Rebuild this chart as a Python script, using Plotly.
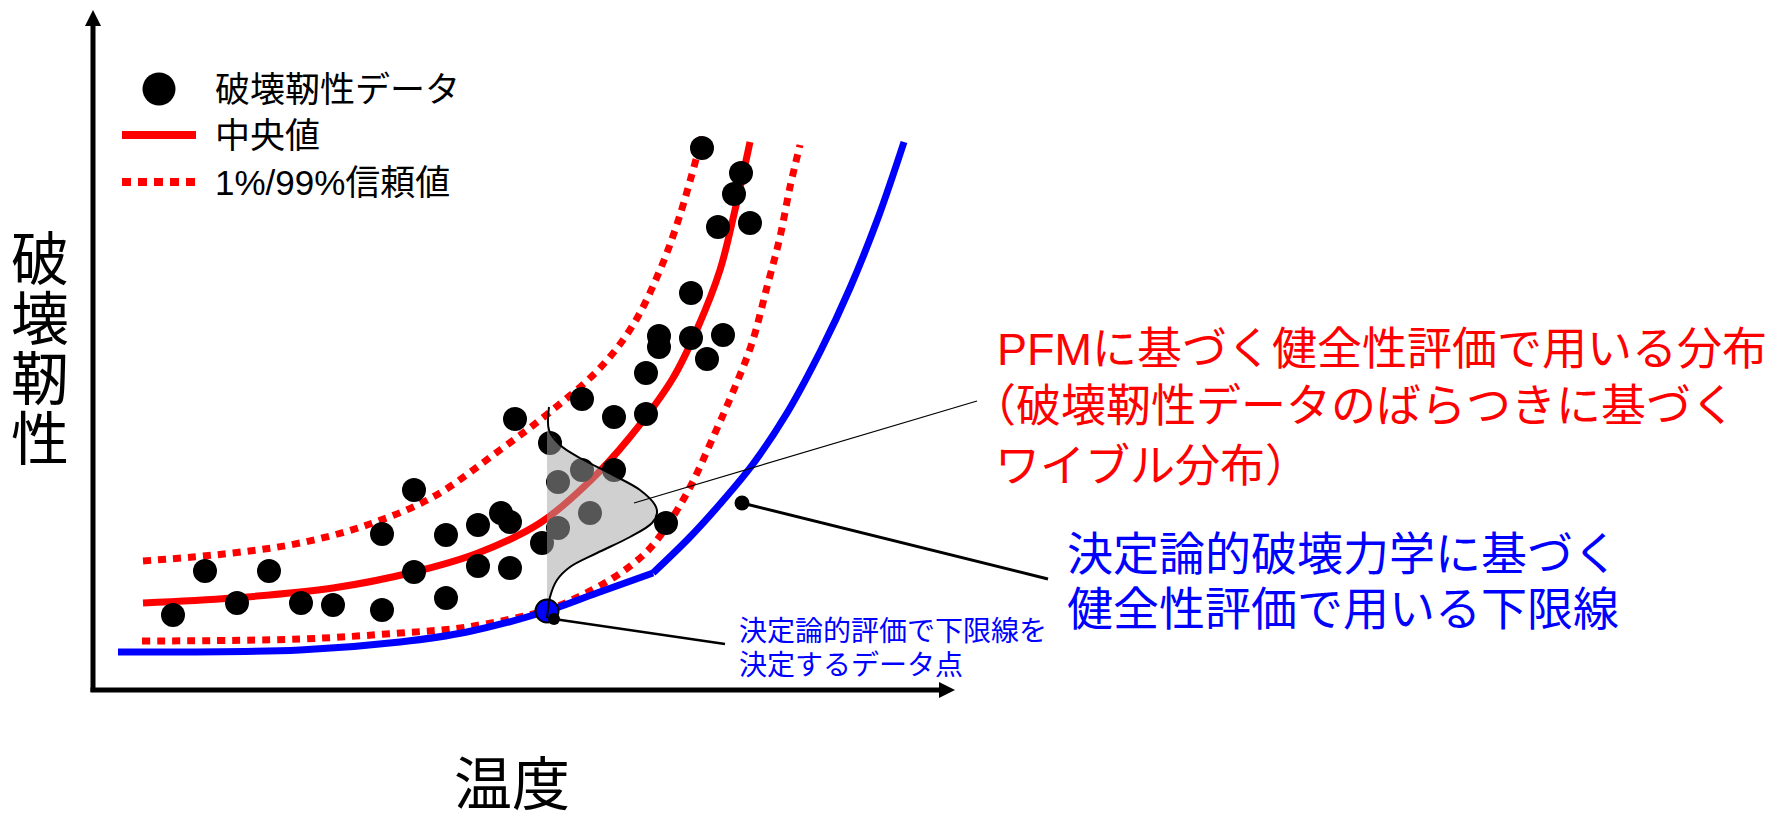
import plotly.graph_objects as go

# ---- data (temperature / fracture toughness, arbitrary units from the axis origin) ----
# 破壊靭性データ
data_T = [80, 112, 144, 176, 208, 240, 289, 289, 321, 321, 353, 353, 385, 385, 408, 417, 417,
          449, 465, 465, 497, 489, 521, 573, 457, 422, 489, 521, 553, 553, 566, 566, 598, 630,
          614, 598, 625, 657, 641, 648, 609]
data_K = [74, 118, 86, 118, 86, 84, 155, 79, 199, 117, 154, 91, 164, 123, 176, 167, 121,
          146, 207, 161, 176, 219, 219, 166, 246, 270, 290, 272, 275, 316, 353, 342, 351, 354,
          330, 396, 462, 466, 495, 516, 541]

# 中央値
median_T = [50, 140, 240, 321, 385, 447, 497, 537, 580, 605, 627, 642, 657]
median_K = [86, 91, 101, 117, 136, 166, 208, 252, 311, 362, 419, 479, 547]

# 99% 信頼値 (upper)
upper_T = [50, 140, 207, 274, 340, 407, 457, 507, 540, 567, 587, 609]
upper_K = [128, 136, 146, 164, 192, 239, 277, 321, 364, 419, 474, 552]

# 1% 信頼値 (lower)
lower_T = [49, 207, 307, 374, 454, 487, 520, 547, 564, 594, 622, 642, 659, 674, 687, 697, 707]
lower_K = [48, 50, 56, 62, 79, 93, 111, 131, 149, 196, 256, 302, 346, 402, 452, 502, 544]

# 決定論的評価の下限線 (two branches meeting at the bend)
bound_lo_T = [25, 207, 307, 374, 454, 504, 560]
bound_lo_K = [37, 39, 47, 57, 78, 96, 116]
bound_hi_T = [560, 597, 627, 660, 694, 728, 757, 785, 811]
bound_hi_K = [116, 152, 185, 225, 276, 339, 401, 471, 547]

# ワイブル分布 (toughness levels and density width at the evaluated temperature)
weib_T0 = 454
weib_K = [282, 259, 244, 231, 214, 199, 184, 176, 166, 152, 136, 122, 109, 92, 79, 71]
weib_w = [2, 2, 13, 33, 66, 93, 108, 110, 105, 83, 50, 23, 10, 3, 1, 0]

# 下限線を決定するデータ点
det_T, det_K = 454, 78

# ---- styling ----
W, H = 1776, 817
X0_PX, Y0_PX = 93, 689          # axis origin on the page
RED, BLUE = "#ff0000", "#0000ff"
FONT = "Liberation Sans, Noto Sans CJK JP, sans-serif"

fig = go.Figure()

dot_dash = "8px,7px"
fig.add_trace(go.Scatter(x=upper_T, y=upper_K, mode="lines", line=dict(color=RED, width=7, dash=dot_dash, shape="spline")))
fig.add_trace(go.Scatter(x=lower_T, y=lower_K, mode="lines", line=dict(color=RED, width=7, dash=dot_dash, shape="spline")))
fig.add_trace(go.Scatter(x=bound_lo_T, y=bound_lo_K, mode="lines", line=dict(color=BLUE, width=7, shape="spline")))
fig.add_trace(go.Scatter(x=bound_hi_T, y=bound_hi_K, mode="lines", line=dict(color=BLUE, width=7, shape="spline")))
fig.add_trace(go.Scatter(x=median_T, y=median_K, mode="lines", line=dict(color=RED, width=7, shape="spline")))

fig.add_trace(go.Scatter(x=data_T, y=data_K, mode="markers",
                         marker=dict(color="black", size=24, line=dict(width=0))))

# distribution: translucent fill and outline
dist_x = [weib_T0 + w for w in weib_w]
fig.add_trace(go.Scatter(x=dist_x + [weib_T0, weib_T0], y=weib_K + [weib_K[-1], weib_K[1]],
                         mode="lines", fill="toself", fillcolor="rgba(164,164,164,0.52)",
                         line=dict(width=0), hoverinfo="skip"))

fig.add_trace(go.Scatter(x=[det_T], y=[det_K], mode="markers",
                         marker=dict(color=BLUE, size=23, line=dict(color="black", width=2))))

fig.add_trace(go.Scatter(x=dist_x, y=weib_K, mode="lines",
                         line=dict(color="black", width=2, shape="spline")))

# leader lines and their anchor dots
leaders = [
    ([541, 884], [186, 288], 1.3, 0),
    ([649, 955], [186, 110], 3, 15),
    ([461, 632], [70, 45], 2.5, 12),
]
for lx, ly, lw, dot in leaders:
    fig.add_trace(go.Scatter(x=lx, y=ly, mode="lines", line=dict(color="black", width=lw)))
    if dot:
        fig.add_trace(go.Scatter(x=lx[:1], y=ly[:1], mode="markers",
                                 marker=dict(color="black", size=dot, opacity=1, line=dict(width=0))))

# legend glyphs
LEG_X0, LEG_X1, LEG_TX = 29, 103, 120
LEG_Y = [600, 554, 507]
fig.add_trace(go.Scatter(x=[(LEG_X0 + LEG_X1) / 2], y=[LEG_Y[0]], mode="markers",
                         marker=dict(color="black", size=33)))
fig.add_trace(go.Scatter(x=[LEG_X0, LEG_X1], y=[LEG_Y[1]] * 2, mode="lines",
                         line=dict(color=RED, width=8)))
fig.add_trace(go.Scatter(x=[LEG_X0, LEG_X1], y=[LEG_Y[2]] * 2, mode="lines",
                         line=dict(color=RED, width=8, dash="9px,7px")))

legend_labels = ["破壊靭性データ", "中央値", "1%/99%信頼値"]
ann = []
for lbl, ly in zip(legend_labels, LEG_Y):
    ann.append(dict(x=LEG_TX, y=ly, text=lbl, xanchor="left", yanchor="middle",
                    font=dict(size=35, color="black", family=FONT)))

# axis titles
for i, ch in enumerate("破壊靭性"):
    ann.append(dict(x=-53, y=430 - 60 * i, text=ch, xanchor="center", yanchor="middle",
                    font=dict(size=58, color="black", family=FONT)))
ann.append(dict(x=419, y=-95, text="温度", xanchor="center", yanchor="middle",
                font=dict(size=58, color="black", family=FONT)))

red_lines = [(902, 340, "PFMに基づく健全性評価で用いる分布"),
             (876, 283, "（破壊靭性データのばらつきに基づく"),
             (900, 223, "ワイブル分布）")]
for x, y, t in red_lines:
    ann.append(dict(x=x, y=y, text=t, xanchor="left", yanchor="middle",
                    font=dict(size=45, color=RED, family=FONT)))

blue_lines = [(972, 135, "決定論的破壊力学に基づく"), (972, 80, "健全性評価で用いる下限線")]
for x, y, t in blue_lines:
    ann.append(dict(x=x, y=y, text=t, xanchor="left", yanchor="middle",
                    font=dict(size=46, color=BLUE, family=FONT)))

small_lines = [(644, 58, "決定論的評価で下限線を"), (644, 24, "決定するデータ点")]
for x, y, t in small_lines:
    ann.append(dict(x=x, y=y, text=t, xanchor="left", yanchor="middle",
                    font=dict(size=28, color=BLUE, family=FONT)))

for a in ann:
    a.update(xref="x", yref="y", showarrow=False)

# axes with arrowheads
Y_TIP, X_TIP, HEAD = 679, 862, 16
shapes = [
    dict(type="line", x0=0, y0=-3, x1=0, y1=Y_TIP - HEAD + 1, line=dict(color="black", width=5)),
    dict(type="line", x0=-2.5, y0=-1, x1=X_TIP - HEAD + 1, y1=-1, line=dict(color="black", width=5)),
    dict(type="path", path=f"M {-HEAD/2},{Y_TIP-HEAD} L {HEAD/2},{Y_TIP-HEAD} L 0,{Y_TIP} Z",
         fillcolor="black", line=dict(width=0)),
    dict(type="path", path=f"M {X_TIP-HEAD},{-1-HEAD/2} L {X_TIP-HEAD},{-1+HEAD/2} L {X_TIP},-1 Z",
         fillcolor="black", line=dict(width=0)),
]

fig.update_layout(
    width=W, height=H, margin=dict(l=0, r=0, t=0, b=0),
    paper_bgcolor="white", plot_bgcolor="white", showlegend=False,
    xaxis=dict(range=[-X0_PX, W - X0_PX], visible=False, fixedrange=True),
    yaxis=dict(range=[Y0_PX - H, Y0_PX], visible=False, fixedrange=True),
    annotations=ann, shapes=shapes, hovermode=False,
)

fig.write_html("out.html", config={"displayModeBar": False})
